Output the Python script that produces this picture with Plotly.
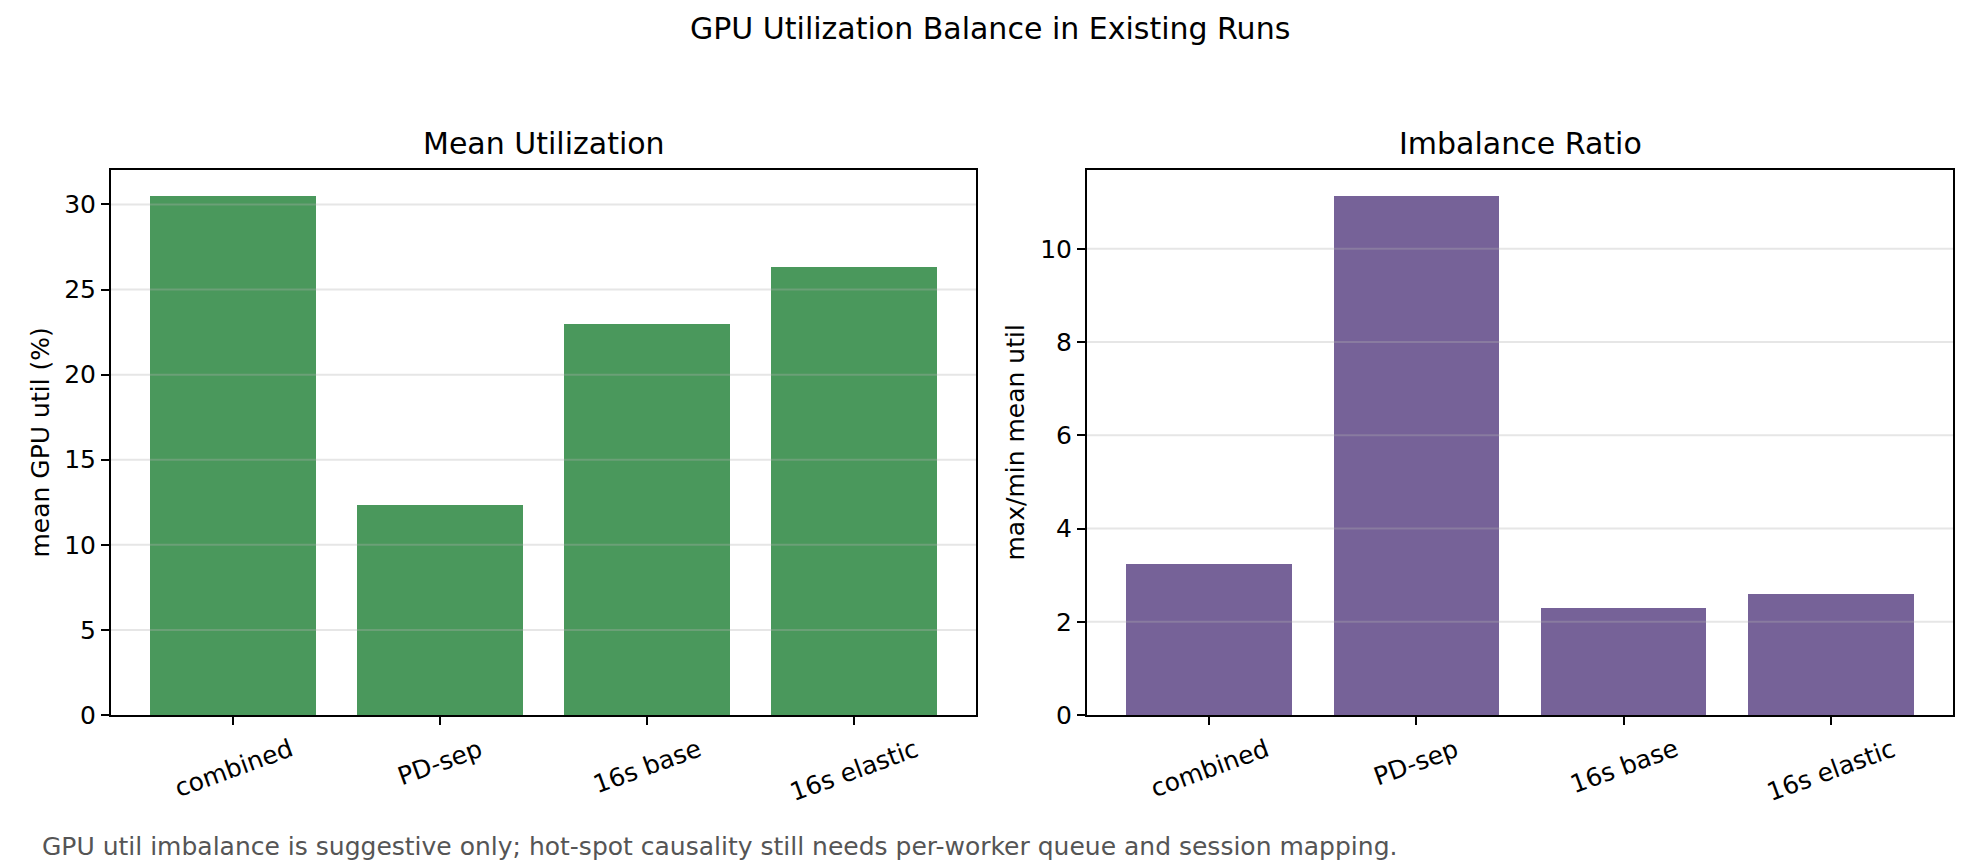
import plotly.graph_objects as go

categories = ["combined", "PD-sep", "16s base", "16s elastic"]
mean_util = [30.5, 12.33, 22.98, 26.33]
imbalance = [3.24, 11.135, 2.29, 2.595]
left_ticks = [0, 5, 10, 15, 20, 25, 30]
right_ticks = [0, 2, 4, 6, 8, 10]

W, H = 1980, 864
FONT = "DejaVu Sans"
GREEN = "#4A985C"
PURPLE = "#766298"
GRID = "rgba(176,176,176,0.32)"

# pixel layout of the axes boxes
L_X0, L_X1 = 111, 976
R_X0, R_X1 = 1087, 1953
Y_TOP, Y_BOT = 170, 715

def fx(px):
    return px / W

def fy(py):
    return (H - py) / H

fig = go.Figure()
fig.add_trace(go.Bar(x=categories, y=mean_util, marker=dict(color=GREEN, line=dict(width=0)),
                     width=0.8, xaxis="x", yaxis="y", showlegend=False))
fig.add_trace(go.Bar(x=categories, y=imbalance, marker=dict(color=PURPLE, line=dict(width=0)),
                     width=0.8, xaxis="x2", yaxis="y2", showlegend=False))

axis_common = dict(
    showline=True, linecolor="black", linewidth=2, mirror=True,
    ticks="outside", ticklen=8, tickwidth=2, tickcolor="black",
    showgrid=False, zeroline=False, automargin=False,
    tickfont=dict(family=FONT, size=25, color="black"),
)

nb = len(categories)
xr = [-0.4 - 0.05 * (nb - 0.2), nb - 1 + 0.4 + 0.05 * (nb - 0.2)]

fig.update_layout(
    width=W, height=H,
    margin=dict(l=0, r=0, t=0, b=0, pad=0, autoexpand=False),
    paper_bgcolor="white", plot_bgcolor="white",
    font=dict(family=FONT, size=25, color="black"),
    bargap=0, showlegend=False,
    xaxis=dict(domain=[fx(L_X0), fx(L_X1)], anchor="y", type="category",
               range=xr, showticklabels=False, **axis_common),
    yaxis=dict(domain=[fy(Y_BOT), fy(Y_TOP)], anchor="x",
               range=[0, max(mean_util) * 1.05], tickvals=left_ticks,
               ticktext=[str(v) for v in left_ticks], **axis_common),
    xaxis2=dict(domain=[fx(R_X0), fx(R_X1)], anchor="y2", type="category",
                range=xr, showticklabels=False, **axis_common),
    yaxis2=dict(domain=[fy(Y_BOT), fy(Y_TOP)], anchor="x2",
                range=[0, max(imbalance) * 1.05], tickvals=right_ticks,
                ticktext=[str(v) for v in right_ticks], **axis_common),
)

# grid lines drawn above bars (as in the reference)
shapes = []
for t in left_ticks[1:]:
    shapes.append(dict(type="line", xref="x domain", yref="y", x0=0, x1=1, y0=t, y1=t,
                       line=dict(color=GRID, width=2), layer="above"))
for t in right_ticks[1:]:
    shapes.append(dict(type="line", xref="x2 domain", yref="y2", x0=0, x1=1, y0=t, y1=t,
                       line=dict(color=GRID, width=2), layer="above"))
fig.update_layout(shapes=shapes)

ann = []
# rotated category labels, centered under ticks
for xa, ya in (("x", "y domain"), ("x2", "y2 domain")):
    for c in categories:
        ann.append(dict(x=c, xref=xa, y=0, yref=ya, text=c, showarrow=False,
                        textangle=-20, xanchor="center", yanchor="top", yshift=-16,
                        font=dict(family=FONT, size=25, color="black")))

# titles
ann.append(dict(x=0.5, y=fy(29), xref="paper", yref="paper", text="GPU Utilization Balance in Existing Runs",
                showarrow=False, xanchor="center", yanchor="middle",
                font=dict(family=FONT, size=30, color="black")))
ann.append(dict(x=fx((L_X0 + L_X1) / 2), y=fy(144), xref="paper", yref="paper", text="Mean Utilization",
                showarrow=False, xanchor="center", yanchor="middle",
                font=dict(family=FONT, size=30, color="black")))
ann.append(dict(x=fx((R_X0 + R_X1) / 2), y=fy(144), xref="paper", yref="paper", text="Imbalance Ratio",
                showarrow=False, xanchor="center", yanchor="middle",
                font=dict(family=FONT, size=30, color="black")))
# y-axis labels
ann.append(dict(x=fx(40), y=fy((Y_TOP + Y_BOT) / 2), xref="paper", yref="paper", text="mean GPU util (%)",
                showarrow=False, textangle=-90, xanchor="center", yanchor="middle",
                font=dict(family=FONT, size=25, color="black")))
ann.append(dict(x=fx(1015), y=fy((Y_TOP + Y_BOT) / 2), xref="paper", yref="paper", text="max/min mean util",
                showarrow=False, textangle=-90, xanchor="center", yanchor="middle",
                font=dict(family=FONT, size=25, color="black")))
# footnote
ann.append(dict(x=fx(40), y=fy(846), xref="paper", yref="paper",
                text="GPU util imbalance is suggestive only; hot-spot causality still needs per-worker queue and session mapping.",
                showarrow=False, xanchor="left", yanchor="middle",
                font=dict(family=FONT, size=25, color="#555555")))
fig.update_layout(annotations=ann)

fig.write_html("out.html")
